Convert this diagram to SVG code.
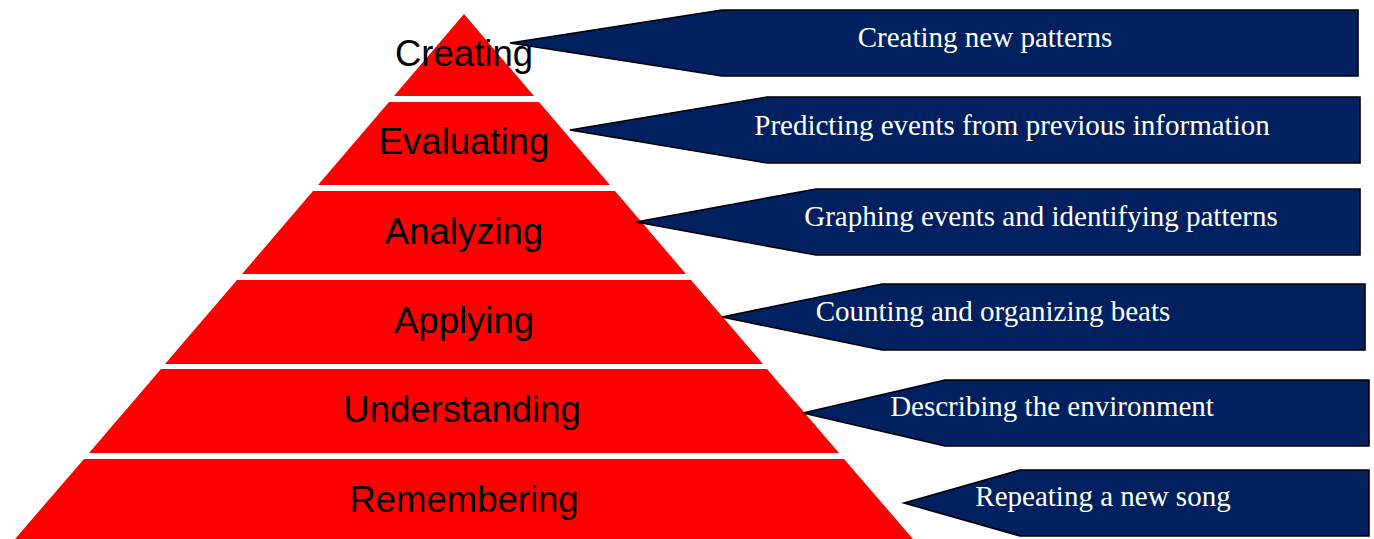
<svg xmlns="http://www.w3.org/2000/svg" width="1374" height="539" viewBox="0 0 1374 539">
<style>
.layer{fill:#FF0000;stroke:none}
.lbl{font-family:"Liberation Sans",Arial,sans-serif;font-size:36.5px;fill:#000;text-anchor:middle}
.call{fill:#002060;stroke:#000;stroke-width:1.6;stroke-linejoin:miter}
.ctxt{font-family:"Liberation Serif","Times New Roman",serif;font-size:29px;fill:#FFFFFF;text-anchor:middle}
</style>
<rect width="1374" height="539" fill="#FFFFFF"/>
<g id="pyramid">
<g id="layer-creating"><polygon class="layer" points="464,14 534,96 394,96"/><text class="lbl" x="464" y="66">Creating</text></g>
<g id="layer-evaluating"><polygon class="layer" points="389,102 539,102 610,185 318,185"/><text class="lbl" x="464" y="154">Evaluating</text></g>
<g id="layer-analyzing"><polygon class="layer" points="313,191 615,191 686,274 242,274"/><text class="lbl" x="464" y="244">Analyzing</text></g>
<g id="layer-applying"><polygon class="layer" points="237,280 691,280 763,364 165,364"/><text class="lbl" x="464" y="333">Applying</text></g>
<g id="layer-understanding"><polygon class="layer" points="161,369 767,369 839,453 89,453"/><text class="lbl" x="462" y="422">Understanding</text></g>
<g id="layer-remembering"><polygon class="layer" points="84,459 844,459 913,539 15,539"/><text class="lbl" x="464" y="512">Remembering</text></g>
</g>
<g id="callouts">
<g id="callout-creating"><polygon class="call" points="510,43 722,10 1358,10 1358,76 722,76"/><text class="ctxt" x="985" y="47">Creating new patterns</text></g>
<g id="callout-evaluating"><polygon class="call" points="570,130 767,97 1360,97 1360,163 767,163"/><text class="ctxt" x="1012" y="135">Predicting events from previous information</text></g>
<g id="callout-analyzing"><polygon class="call" points="636,222 816,189 1360,189 1360,255 816,255"/><text class="ctxt" x="1041" y="226">Graphing events and identifying patterns</text></g>
<g id="callout-applying"><polygon class="call" points="722,317 882,284 1365,284 1365,350 882,350"/><text class="ctxt" x="993" y="321">Counting and organizing beats</text></g>
<g id="callout-understanding"><polygon class="call" points="803,413 945,380 1369,380 1369,446 945,446"/><text class="ctxt" x="1052" y="416">Describing the environment</text></g>
<g id="callout-remembering"><polygon class="call" points="904,503 1020,470 1369,470 1369,536 1020,536"/><text class="ctxt" x="1103" y="506">Repeating a new song</text></g>
</g>
</svg>
